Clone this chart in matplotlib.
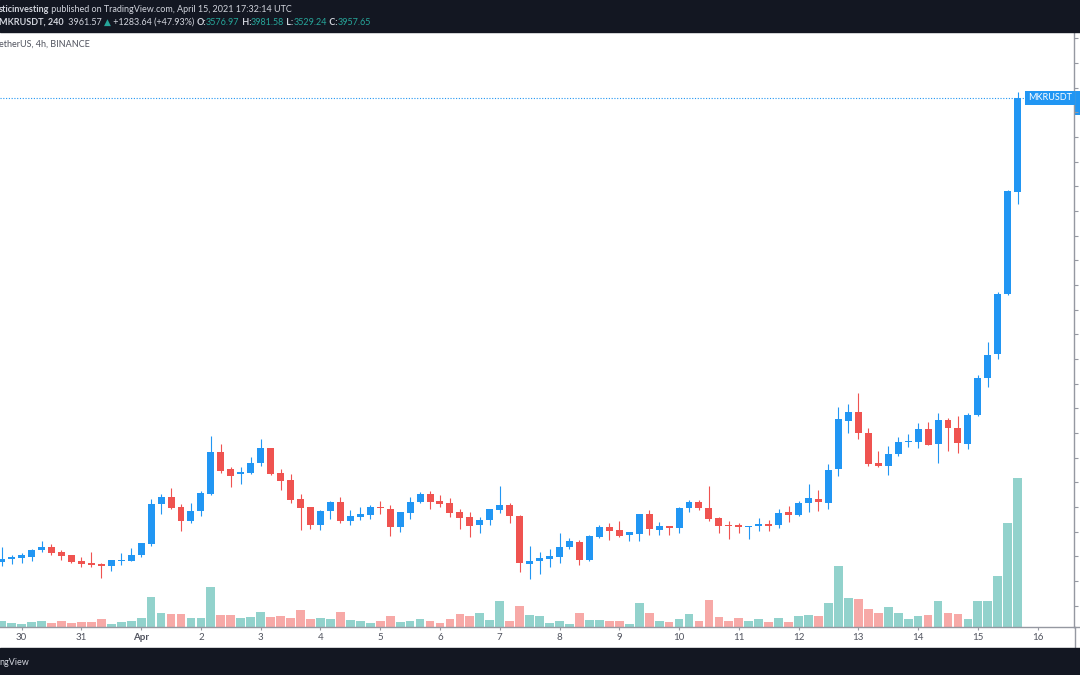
import matplotlib
matplotlib.use("Agg")
import matplotlib.pyplot as plt
from matplotlib.lines import Line2D
from matplotlib.patches import Rectangle
from matplotlib.text import Annotation
from matplotlib.ticker import MultipleLocator
from matplotlib.transforms import blended_transform_factory

# MKR/USDT 4h candles, Mar 29 16:00 -> Apr 15 16:00 UTC
opens = [2076, 2087, 2094, 2098, 2126, 2137, 2116, 2105, 2079, 2071,
         2068, 2060, 2082, 2082, 2105, 2149, 2310, 2338, 2299, 2243,
         2284, 2352, 2521, 2453, 2433, 2436, 2479, 2537, 2437, 2407,
         2330, 2299, 2228, 2282, 2318, 2243, 2257, 2267, 2301, 2293,
         2218, 2276, 2321, 2352, 2325, 2314, 2278, 2257, 2225, 2245,
         2287, 2306, 2264, 2067, 2082, 2087, 2098, 2137, 2156, 2085,
         2179, 2218, 2206, 2186, 2191, 2271, 2207, 2224, 2216, 2295,
         2318, 2295, 2255, 2226, 2228, 2220, 2222, 2230, 2225, 2278,
         2268, 2316, 2332, 2314, 2452, 2649, 2683, 2599, 2476, 2466,
         2513, 2563, 2564, 2617, 2553, 2651, 2621, 2556, 2672, 2822,
         2920, 3163, 3576.97]
highs = [2139, 2105, 2112, 2130, 2161, 2149, 2125, 2105, 2098, 2116,
         2071, 2085, 2112, 2133, 2155, 2330, 2351, 2378, 2311, 2314,
         2364, 2588, 2556, 2463, 2463, 2503, 2575, 2540, 2453, 2432,
         2353, 2299, 2287, 2325, 2341, 2287, 2301, 2306, 2324, 2306,
         2280, 2341, 2359, 2366, 2348, 2334, 2291, 2280, 2257, 2291,
         2386, 2314, 2267, 2141, 2118, 2128, 2193, 2175, 2166, 2185,
         2226, 2236, 2243, 2199, 2271, 2287, 2238, 2224, 2298, 2328,
         2329, 2384, 2260, 2243, 2233, 2224, 2256, 2247, 2293, 2303,
         2322, 2393, 2368, 2474, 2706, 2716, 2760, 2621, 2526, 2547,
         2582, 2595, 2640, 2643, 2679, 2659, 2670, 2679, 2834, 2968,
         3171, 3584, 3981.58]
lows = [2062, 2068, 2071, 2082, 2116, 2103, 2083, 2074, 2057, 2057,
        2010, 2041, 2064, 2079, 2095, 2143, 2271, 2293, 2203, 2233,
        2264, 2348, 2439, 2379, 2393, 2433, 2465, 2429, 2368, 2317,
        2206, 2211, 2206, 2251, 2233, 2226, 2247, 2251, 2271, 2182,
        2199, 2249, 2314, 2293, 2298, 2257, 2211, 2176, 2195, 2225,
        2274, 2236, 2034, 2009, 2029, 2057, 2072, 2130, 2063, 2079,
        2172, 2167, 2179, 2163, 2161, 2186, 2186, 2186, 2195, 2279,
        2286, 2241, 2193, 2168, 2195, 2171, 2201, 2203, 2213, 2240,
        2264, 2280, 2283, 2290, 2426, 2598, 2574, 2467, 2460, 2429,
        2506, 2544, 2540, 2549, 2479, 2528, 2517, 2534, 2670, 2786,
        2899, 3160, 3529.24]
closes = [2087, 2095, 2105, 2125, 2137, 2114, 2101, 2076, 2068, 2066,
          2060, 2083, 2085, 2103, 2155, 2311, 2338, 2297, 2243, 2284,
          2355, 2521, 2447, 2426, 2441, 2476, 2540, 2432, 2406, 2328,
          2294, 2228, 2284, 2318, 2243, 2263, 2270, 2301, 2294, 2218,
          2278, 2320, 2352, 2321, 2311, 2276, 2253, 2222, 2247, 2290,
          2306, 2264, 2071, 2082, 2091, 2101, 2136, 2160, 2085, 2182,
          2218, 2201, 2182, 2197, 2271, 2210, 2224, 2216, 2295, 2318,
          2294, 2252, 2222, 2224, 2220, 2224, 2230, 2224, 2274, 2267,
          2317, 2334, 2318, 2449, 2655, 2683, 2598, 2474, 2466, 2514,
          2563, 2567, 2614, 2552, 2651, 2618, 2560, 2672, 2822, 2916,
          3163, 3580, 3957.65]
volumes = [630, 370, 270, 500, 630, 400, 630, 400, 500, 500,
           770, 330, 500, 630, 870, 3000, 1400, 1300, 1300, 870,
           930, 4030, 1200, 1200, 930, 1000, 1470, 1000, 1130, 900,
           1670, 830, 870, 800, 1470, 670, 600, 400, 630, 1100,
           500, 630, 800, 630, 400, 800, 1330, 1100, 1400, 700,
           2600, 630, 2100, 1170, 1070, 430, 630, 330, 1400, 730,
           730, 570, 570, 330, 2430, 1400, 630, 500, 800, 1300,
           600, 2700, 1000, 630, 870, 630, 800, 470, 870, 470,
           1130, 1200, 1070, 2400, 6130, 2930, 2770, 1770, 1370, 2030,
           1370, 770, 1070, 1170, 2570, 1370, 1300, 770, 2570, 2570,
           5070, 10430, 14870]

day_labels = ['30', '31', 'Apr', '2', '3', '4', '5', '6', '7', '8',
              '9', '10', '11', '12', '13', '14', '15', '16']
first_midnight = 2      # bar index of Mar 30 00:00
bars_per_day = 6

W, H = 1080, 675
FONT = ['Lato', 'DejaVu Sans']
UP, DOWN = '#2196F3', '#EF5350'
VUP, VDOWN = '#92D2CC', '#F7A9A7'
GRID = '#9598A1'


def fx(px):
    return px / W


def fy(py):
    return 1 - py / H


fig = plt.figure(figsize=(10.8, 6.75), dpi=100)
fig.patch.set_facecolor('white')

ax = fig.add_axes([0, fy(627), fx(1074), (627 - 32) / H])
vax = ax.twinx()
ax.set_zorder(vax.get_zorder() + 1)
ax.patch.set_visible(False)

x = list(range(len(opens)))
up = [c >= o for o, c in zip(opens, closes)]
ccol = [UP if u else DOWN for u in up]
vcol = [VUP if u else VDOWN for u in up]

# volume overlay
vax.bar(x, volumes, width=0.88, color=vcol, linewidth=0)
vax.set_ylim(0, max(volumes) * 4.0)
vax.axis('off')

# candles
ax.vlines(x, lows, highs, colors=ccol, linewidth=0.8)
body_lo = [min(o, c) for o, c in zip(opens, closes)]
body_h = [max(abs(c - o), 3) for o, c in zip(opens, closes)]
ax.bar(x, body_h, bottom=body_lo, width=0.7, color=ccol, linewidth=0)

ax.set_xlim(-0.17, 107.65)
ax.set_ylim(1813, 4225)

for s in ['top', 'left']:
    ax.spines[s].set_visible(False)
ax.spines['bottom'].set_color(GRID)
ax.spines['right'].set_color(GRID)
ax.spines['bottom'].set_linewidth(1)
ax.spines['right'].set_linewidth(1)

ax.yaxis.tick_right()
ax.yaxis.set_major_locator(MultipleLocator(100))
ax.tick_params(axis='y', direction='out', length=3, width=0.8, color=GRID,
               labelright=False, labelleft=False)

ax.set_xticks([first_midnight + bars_per_day * i for i in range(len(day_labels))])
ax.set_xticklabels(day_labels, fontsize=7, color='#50535E', family=FONT)
ax.get_xticklabels()[2].set_fontweight('bold')
ax.tick_params(axis='x', direction='out', length=2.5, width=0.8, color=GRID, pad=2)

# last price line, symbol tag and the (cropped) price tag on the axis
tr = blended_transform_factory(ax.transAxes, ax.transData)
ax.axhline(closes[-1], color=UP, lw=0.8, ls=(0, (1, 1.5)))
ax.text(1 - 2 / 1074, closes[-1], 'MKRUSDT', transform=tr, ha='right', va='center',
        fontsize=6.5, color='white', family=FONT,
        bbox=dict(boxstyle='square,pad=0.3', fc=UP, ec='none'))
ax.add_patch(Rectangle((1.0, closes[-1] - 69), 0.02, 97, transform=tr,
                       fc=UP, ec='none', clip_on=False))

# frame pieces outside the axes
fig.add_artist(Line2D([fx(1074.5), fx(1074.5)], [fy(648), fy(627)], color=GRID, lw=1))
fig.add_artist(Line2D([fx(1074), 1], [fy(627), fy(627)], color=GRID, lw=1))

# header and footer bands
fig.add_artist(Rectangle((0, fy(32)), 1, 32 / H, transform=fig.transFigure,
                         color='#131722', zorder=5))
fig.add_artist(Rectangle((0, 0), 1, 27 / H, transform=fig.transFigure,
                         color='#131722', zorder=5))


def write_run(parts, x0, y0, size):
    s, col, w = parts[0]
    prev = fig.text(fx(x0), fy(y0), s, color=col, fontsize=size, fontweight=w,
                    family=FONT, va='bottom', ha='left', zorder=6)
    for s, col, w in parts[1:]:
        prev = fig.add_artist(Annotation(s, xy=(1, 0), xycoords=prev, va='bottom',
                                         ha='left', color=col, fontsize=size,
                                         fontweight=w, family=FONT, zorder=6))


TXT = '#D1D4DC'
TEAL = '#26A69A'
write_run([('sticinvesting', TXT, 'bold'),
           (' published on TradingView.com, April 15, 2021 17:32:14 UTC', TXT, 'normal')],
          -1, 14, 6.5)
write_run([('MKRUSDT, 240 ', TXT, 'bold'),
           (' 3961.57 ', TXT, 'normal'),
           ('▲', TEAL, 'normal'),
           (' +1283.64 (+47.93%) ', TXT, 'normal'),
           ('O:', TXT, 'bold'), ('3576.97', TEAL, 'normal'),
           (' H:', TXT, 'bold'), ('3981.58', TEAL, 'normal'),
           (' L:', TXT, 'bold'), ('3529.24', TEAL, 'normal'),
           (' C:', TXT, 'bold'), ('3957.65', TEAL, 'normal')],
          -1, 27, 6.5)
fig.text(fx(-1), fy(49), 'etherUS, 4h, BINANCE', color='#50535E', fontsize=6.5,
         family=FONT, va='bottom', ha='left')
fig.text(fx(-1), fy(667), 'ngView', color='#D1D4DC', fontsize=6.5,
         family=FONT, va='bottom', ha='left', zorder=6)

fig.savefig('out.png', dpi=100)
